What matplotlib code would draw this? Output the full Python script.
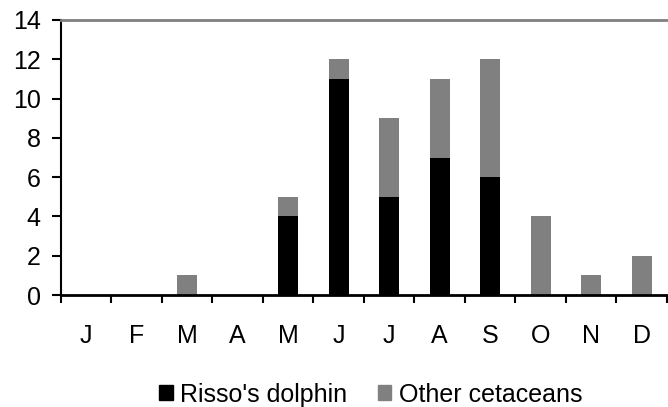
import numpy as np
import matplotlib.pyplot as plt
from matplotlib.patches import Patch

months = ["J", "F", "M", "A", "M", "J", "J", "A", "S", "O", "N", "D"]
risso = [0, 0, 0, 0, 4, 11, 5, 7, 6, 0, 0, 0]
other = [0, 0, 1, 0, 1, 1, 4, 4, 6, 4, 1, 2]

plt.rcParams['font.family'] = ['Liberation Sans', 'DejaVu Sans']

fig = plt.figure(figsize=(6.68, 4.07), dpi=100)
ax = fig.add_axes([0.0913, 0.275, 0.907, 0.676])

x = np.arange(len(months))
width = 0.4
ax.bar(x, risso, width, color="black", label="Risso's dolphin")
ax.bar(x, other, width, bottom=risso, color="#808080", label="Other cetaceans")

ax.set_xlim(-0.5, len(months) - 0.5)
ax.set_ylim(0, 14)
ax.set_yticks(range(0, 15, 2))
ax.tick_params(axis="y", labelsize=18, length=6.5, width=1.5, direction="out", pad=8)

# month labels centred, tick marks between categories
ax.set_xticks(x)
ax.set_xticklabels(months)
ax.set_xticks(np.arange(-0.5, len(months), 1), minor=True)
ax.tick_params(axis="x", which="major", length=0, labelsize=18, pad=21)
ax.tick_params(axis="x", which="minor", length=6, width=1.5, direction="out")

ax.spines["right"].set_visible(False)
ax.spines["top"].set_color("#808080")
ax.spines["top"].set_linewidth(2)
ax.spines["left"].set_linewidth(1.5)
ax.spines["bottom"].set_linewidth(2)

handles = [Patch(color="black", label="Risso's dolphin"),
           Patch(color="#808080", label="Other cetaceans")]
fig.legend(handles=handles, loc="center", bbox_to_anchor=(0.555, 0.03), ncol=2,
           frameon=False, fontsize=18, handlelength=0.55, handleheight=0.55,
           handletextpad=0.3, columnspacing=1.2, borderpad=0)

fig.savefig("out.png", dpi=100)
